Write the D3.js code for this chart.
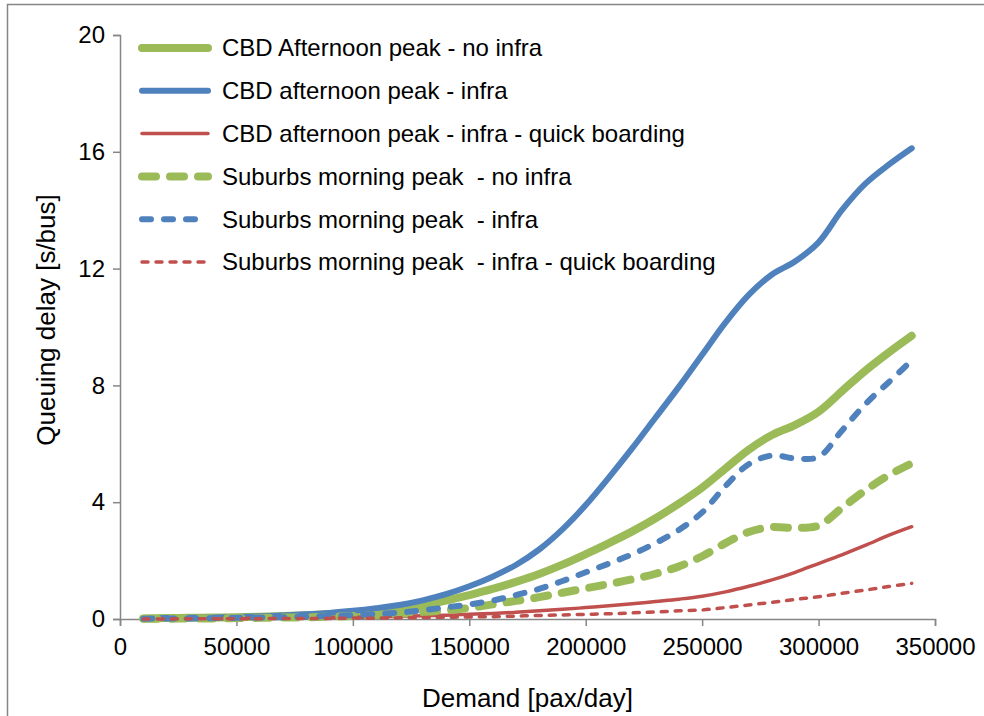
<!DOCTYPE html>
<html>
<head>
<meta charset="utf-8">
<script src="https://cdn.jsdelivr.net/npm/d3@7"></script>
<style>
  body { margin:0; background:#fff; }
  svg { font-family: "Liberation Sans", Arial, sans-serif; }
</style>
</head>
<body>
<svg id="chart" width="984" height="716"></svg>
<script>
// demand [pax/day]
var demand = [10000,20000,30000,40000,50000,60000,70000,80000,90000,100000,
  110000,120000,130000,140000,150000,160000,170000,180000,190000,200000,
  210000,220000,230000,240000,250000,260000,270000,280000,290000,300000,
  310000,320000,330000,340000];

// queuing delay [s/bus]
var cbdNoInfra = [0.02,0.03,0.04,0.05,0.06,0.08,0.1,0.13,0.17,0.21,
  0.25,0.32,0.45,0.63,0.82,1.03,1.27,1.54,1.86,2.22,
  2.6,3.0,3.45,3.95,4.5,5.15,5.8,6.3,6.65,7.1,
  7.8,8.5,9.12,9.7];
var cbdInfra = [0.02,0.03,0.04,0.05,0.07,0.09,0.12,0.16,0.21,0.28,
  0.37,0.48,0.64,0.85,1.12,1.45,1.85,2.38,3.07,3.9,
  4.85,5.85,6.9,7.95,9.05,10.15,11.1,11.8,12.25,12.9,
  14.0,14.9,15.55,16.12];
var cbdQuick = [0.01,0.01,0.01,0.02,0.02,0.03,0.03,0.04,0.05,0.06,
  0.07,0.09,0.11,0.13,0.16,0.19,0.23,0.28,0.33,0.39,
  0.45,0.52,0.6,0.68,0.78,0.93,1.12,1.34,1.6,1.9,
  2.2,2.52,2.86,3.16];
var subNoInfra = [0.01,0.01,0.02,0.02,0.03,0.04,0.05,0.06,0.08,0.1,
  0.13,0.17,0.23,0.3,0.38,0.5,0.62,0.75,0.9,1.05,
  1.2,1.36,1.55,1.8,2.15,2.6,2.98,3.15,3.12,3.2,
  3.8,4.4,4.92,5.33];
var subInfra = [0.01,0.02,0.02,0.03,0.04,0.05,0.06,0.08,0.1,0.13,
  0.17,0.22,0.3,0.4,0.5,0.63,0.82,1.03,1.3,1.6,
  1.9,2.22,2.6,3.05,3.65,4.55,5.3,5.6,5.5,5.55,
  6.45,7.35,8.1,8.85];
var subQuick = [0.0,0.0,0.01,0.01,0.01,0.01,0.02,0.02,0.02,0.03,
  0.03,0.04,0.05,0.06,0.07,0.08,0.1,0.12,0.14,0.16,
  0.18,0.21,0.24,0.28,0.31,0.39,0.48,0.57,0.67,0.76,
  0.88,0.99,1.11,1.22];

var seriesNames = ["CBD Afternoon peak - no infra",
  "CBD afternoon peak - infra",
  "CBD afternoon peak - infra - quick boarding",
  "Suburbs morning peak  - no infra",
  "Suburbs morning peak  - infra",
  "Suburbs morning peak  - infra - quick boarding"];
var seriesValues = [cbdNoInfra, cbdInfra, cbdQuick, subNoInfra, subInfra, subQuick];
var xTicks = [0,50000,100000,150000,200000,250000,300000,350000];
var yTicks = [0,4,8,12,16,20];

// line styles
var styles = [
  {color:"#9BBB59", width:8, dash:null},
  {color:"#4F81BD", width:6, dash:null},
  {color:"#C0504D", width:3.5, dash:null},
  {color:"#9BBB59", width:8, dash:"14,14"},
  {color:"#4F81BD", width:6, dash:"9,13"},
  {color:"#C0504D", width:3.5, dash:"6,8"}
];

var svg = d3.select("#chart");
var plotLeft = 120, plotRight = 935, plotTop = 35, plotBottom = 619;

// chart area border
svg.append("rect")
  .attr("x",7.5).attr("y",4.5).attr("width",1000).attr("height",800)
  .attr("fill","none").attr("stroke","#868686").attr("stroke-width",1.5);

var x = d3.scaleLinear().domain([0,350000]).range([plotLeft,plotRight]);
var y = d3.scaleLinear().domain([0,20]).range([plotBottom,plotTop]);

var xAxis = svg.append("g")
  .attr("transform","translate(0,"+plotBottom+")")
  .call(d3.axisBottom(x).tickValues(xTicks).tickSize(7).tickPadding(12).tickFormat(d3.format("d")));
var yAxis = svg.append("g")
  .attr("transform","translate("+plotLeft+",0)")
  .call(d3.axisLeft(y).tickValues(yTicks).tickSize(7).tickPadding(8));

[xAxis, yAxis].forEach(function(a) {
  a.select(".domain").attr("stroke","#868686").attr("stroke-width",1.5);
  a.selectAll(".tick line").attr("stroke","#868686").attr("stroke-width",1.5);
  a.selectAll(".tick text").attr("fill","#000").attr("font-size",24)
    .attr("font-family","Liberation Sans, Arial, sans-serif");
});

// series
var line = d3.line()
  .x(function(d) { return x(d[0]); })
  .y(function(d) { return y(d[1]); })
  .curve(d3.curveCatmullRom.alpha(0.5));

seriesValues.forEach(function(vals, i) {
  var pts = demand.map(function(dm, j) { return [dm, vals[j]]; });
  svg.append("path")
    .datum(pts)
    .attr("d", line)
    .attr("fill","none")
    .attr("stroke", styles[i].color)
    .attr("stroke-width", styles[i].width)
    .attr("stroke-linecap","round")
    .attr("stroke-linejoin","round")
    .attr("stroke-dasharray", styles[i].dash);
});

// legend
var legend = svg.append("g");
seriesNames.forEach(function(name, i) {
  var ly = 48 + i*42.8;
  legend.append("line")
    .attr("x1",142).attr("x2",208).attr("y1",ly).attr("y2",ly)
    .attr("stroke", styles[i].color)
    .attr("stroke-width", styles[i].width)
    .attr("stroke-linecap","round")
    .attr("stroke-dasharray", styles[i].dash);
  legend.append("text")
    .attr("x",222).attr("y",ly).attr("dy","0.35em")
    .attr("font-size",24).attr("fill","#000")
    .style("white-space","pre")
    .text(name);
});

// axis titles
svg.append("text")
  .attr("x",(plotLeft+plotRight)/2).attr("y",707)
  .attr("text-anchor","middle").attr("font-size",26)
  .text("Demand [pax/day]");
svg.append("text")
  .attr("transform","translate(55,320) rotate(-90)")
  .attr("text-anchor","middle").attr("font-size",26)
  .text("Queuing delay [s/bus]");
</script>
</body>
</html>
